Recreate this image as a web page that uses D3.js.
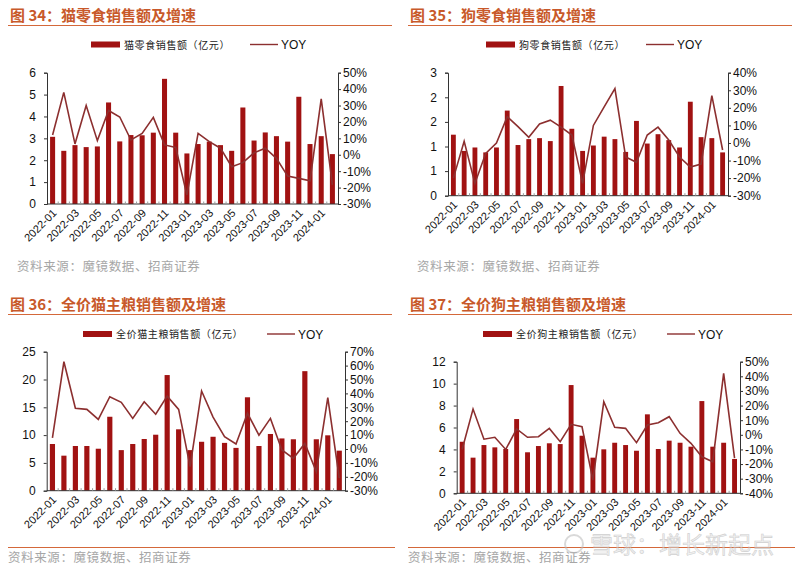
<!DOCTYPE html>
<html><head><meta charset="utf-8">
<script src="https://cdn.jsdelivr.net/npm/d3@7"></script>
<style>
body{margin:0;background:#fff;}
svg{display:block;}
text{font-family:"Liberation Sans",Arial,sans-serif;}
.cjk{font-family:"Noto Sans CJK SC","Noto Sans",sans-serif;}
</style></head>
<body>
<svg id="c" width="800" height="569"></svg>
<script>
// ---------------- data ----------------
const months = ["2022-01","2022-02","2022-03","2022-04","2022-05","2022-06","2022-07","2022-08","2022-09","2022-10","2022-11","2022-12",
"2023-01","2023-02","2023-03","2023-04","2023-05","2023-06","2023-07","2023-08","2023-09","2023-10","2023-11","2023-12","2024-01","2024-02"];

const catSnackSales = [3.07,2.43,2.69,2.60,2.63,4.64,2.86,3.15,3.14,3.26,5.72,3.26,2.31,2.74,2.85,2.69,2.43,4.41,2.90,3.27,3.10,2.85,4.90,2.74,3.10,2.28];
const catSnackYoy   = [12,38,6.6,30,8.6,27,23,9,13,22.8,6,4.5,-24.5,13,8,4,-7.3,-4.8,1.2,4,-2.2,-13,-14.4,-15.8,34,-18.4];

const dogSnackSales = [1.24,0.91,0.98,0.88,0.98,1.73,1.03,1.15,1.17,1.11,2.23,1.36,0.91,1.02,1.20,1.15,0.89,1.52,1.06,1.25,1.13,0.98,1.91,1.19,1.17,0.88];
const dogSnackYoy   = [-20,1,-23,-6,0,15,9.3,3.2,10.8,13,9,4.5,-23,10,20.6,31,-8,-11,4.5,9,1.7,-8,-13.7,-12,27,-4];

const catFoodSales = [8.4,6.3,8.04,8.04,7.55,13.3,7.3,8.4,9.3,10.07,20.8,11.04,7.3,8.8,9.7,8.6,7.7,16.8,8.04,10.2,9.4,9.25,21.5,9.25,9.96,7.2];
const catFoodYoy   = [8,62.8,29.3,28.5,21.3,37.6,33.6,22,34,25,38,28.5,-12.7,41.7,23,8.8,3.6,25.7,10,22,-0.7,-6.7,4,-16.3,37,-21];

const dogFoodSales = [4.70,3.25,4.40,4.19,4.04,6.77,3.74,4.31,4.56,4.49,9.87,5.25,3.25,4.01,4.61,4.40,3.88,7.20,4.04,4.80,4.61,4.25,8.41,4.25,4.61,3.13];
const dogFoodYoy   = [-10,17.6,-3,-1.7,-10,4,-1.7,-1.3,4.4,-4.7,7.2,5.5,-31,22.6,5.1,4.4,-5.4,6.7,8.3,12.4,1,-5.8,-15,-18.4,42,-16];

const catSnackLeftTicks = [0,1,2,3,4,5,6];
const catSnackRightTicks = [-30,-20,-10,0,10,20,30,40,50];
const dogSnackLeftTicks = [0,0.5,1,1.5,2,2.5];
const dogSnackLeftLabels = ["0","1","1","2","2","3"];
const dogSnackRightTicks = [-30,-20,-10,0,10,20,30,40];
const catFoodLeftTicks = [0,5,10,15,20,25];
const catFoodRightTicks = [-30,-20,-10,0,10,20,30,40,50,60,70];
const dogFoodLeftTicks = [0,2,4,6,8,10,12];
const dogFoodRightTicks = [-40,-30,-20,-10,0,10,20,30,40,50];

const titles = ["图 34：猫零食销售额及增速","图 35：狗零食销售额及增速","图 36：全价猫主粮销售额及增速","图 37：全价狗主粮销售额及增速"];
const barLegends = ["猫零食销售额（亿元）","狗零食销售额（亿元）","全价猫主粮销售额（亿元）","全价狗主粮销售额（亿元）"];
const lineLegend = "YOY";
const sourceText = "资料来源：魔镜数据、招商证券";

// ---------------- drawing ----------------
const svg = d3.select("#c");
const BAR = "#a11212", LINE = "#8c2f2f", TITLE = "#c8592a", RULE = "#d4683a", GRAY = "#a6a6a6";

function panel(o){
  const g = svg.append("g");
  // title
  g.append("text").attr("class","cjk").attr("x",o.tx).attr("y",o.ty)
    .attr("font-size",15).attr("font-weight","bold").attr("fill",TITLE).text(o.title);
  g.append("line").attr("x1",o.tx-2).attr("x2",o.tx+382).attr("y1",o.ty+4.5).attr("y2",o.ty+4.5)
    .attr("stroke",RULE).attr("stroke-width",1.2);
  // legend
  g.append("rect").attr("x",o.lx).attr("y",o.ly-3).attr("width",29).attr("height",6).attr("fill",BAR);
  g.append("text").attr("class","cjk").attr("x",o.lx+33).attr("y",o.ly+4).attr("font-size",10)
    .attr("letter-spacing",0.6).attr("fill","#222").text(o.barLegend);
  g.append("line").attr("x1",o.llx).attr("x2",o.llx+28).attr("y1",o.ly).attr("y2",o.ly)
    .attr("stroke",LINE).attr("stroke-width",1.4);
  g.append("text").attr("x",o.llx+31).attr("y",o.ly+4.5).attr("font-size",12).attr("fill","#111").text(lineLegend);

  // scales
  const x = d3.scaleBand().domain(months).range([o.x0,o.x1]).paddingInner(0.55).paddingOuter(0.275);
  const yL = d3.scaleLinear().domain([o.lt[0],o.lt[o.lt.length-1]]).range([o.y0,o.y1]);
  const yR = d3.scaleLinear().domain([o.rt[0],o.rt[o.rt.length-1]]).range([o.y0,o.y1]);

  // bars
  g.append("g").selectAll("rect").data(o.sales).join("rect")
    .attr("x",(d,i)=>x(months[i])).attr("width",x.bandwidth())
    .attr("y",d=>yL(d)).attr("height",d=>yL(0)-yL(d)).attr("fill",BAR);

  // x axis
  const xb = d3.scaleBand().domain(months).range([o.x0,o.x1]);
  const xa = g.append("g").attr("transform",`translate(0,${o.y0})`);
  xa.append("line").attr("x1",o.x0).attr("x2",o.x1).attr("stroke","#333").attr("stroke-width",1);
  xa.selectAll("line.t").data(months.slice(1)).join("line").attr("class","t")
    .attr("x1",d=>xb(d)).attr("x2",d=>xb(d)).attr("y1",0).attr("y2",-2.5).attr("stroke","#999");
  xa.selectAll("text").data(months.filter((d,i)=>i%2===0)).join("text")
    .attr("transform",d=>`translate(${xb(d)+xb.bandwidth()/2+2},${7}) rotate(-45)`)
    .attr("text-anchor","end").attr("dy","0.35em").attr("font-size",11).attr("fill","#111").text(d=>d);

  // left axis
  const la = g.append("g").attr("transform",`translate(${o.x0},0)`)
    .call(d3.axisLeft(yL).tickValues(o.lt).tickSize(3).tickPadding(8)
      .tickFormat((d,i)=>o.ll ? o.ll[i] : d3.format("d")(d)));
  la.select(".domain").attr("stroke","#333");
  la.selectAll(".tick line").attr("stroke","#333");
  la.selectAll("text").attr("font-size",12).attr("fill","#111").attr("font-family","Liberation Sans, Arial, sans-serif");

  // right axis
  const ra = g.append("g").attr("transform",`translate(${o.x1},0)`)
    .call(d3.axisRight(yR).tickValues(o.rt).tickSize(3).tickPadding(2).tickFormat(d=>d+"%"));
  ra.select(".domain").attr("stroke","#333");
  ra.selectAll(".tick line").attr("stroke","#333");
  ra.selectAll("text").attr("font-size",12).attr("fill","#111").attr("font-family","Liberation Sans, Arial, sans-serif");

  // yoy line
  const line = d3.line().x((d,i)=>xb(months[i])+xb.bandwidth()/2).y(d=>yR(d));
  g.append("path").datum(o.yoy).attr("d",line).attr("fill","none").attr("stroke",LINE).attr("stroke-width",1.6)
    .attr("stroke-linejoin","miter");

  // source
  if(o.rule){
    g.append("line").attr("x1",o.tx-2).attr("x2",o.tx+385).attr("y1",o.sy-14.5).attr("y2",o.sy-14.5)
      .attr("stroke",RULE).attr("stroke-width",1.2);
  }
  g.append("text").attr("class","cjk").attr("x",o.sx).attr("y",o.sy).attr("font-size",12.5)
    .attr("letter-spacing",0.6).attr("fill",GRAY).text(sourceText);
}

panel({title:titles[0],tx:10,ty:21,lx:91,ly:44.5,llx:250,barLegend:barLegends[0],
  x0:47,x1:338,y0:204,y1:72.7,lt:catSnackLeftTicks,rt:catSnackRightTicks,
  sales:catSnackSales,yoy:catSnackYoy,sx:17,sy:271,rule:false});
panel({title:titles[1],tx:410,ty:21,lx:486,ly:44.5,llx:646,barLegend:barLegends[1],
  x0:448,x1:728,y0:195.7,y1:72.7,lt:dogSnackLeftTicks,ll:dogSnackLeftLabels,rt:dogSnackRightTicks,
  sales:dogSnackSales,yoy:dogSnackYoy,sx:417,sy:271,rule:false});
panel({title:titles[2],tx:10,ty:310,lx:83,ly:334,llx:267,barLegend:barLegends[2],
  x0:46.7,x1:345,y0:490.7,y1:351.7,lt:catFoodLeftTicks,rt:catFoodRightTicks,
  sales:catFoodSales,yoy:catFoodYoy,sx:8,sy:562,rule:true});
panel({title:titles[3],tx:410,ty:310,lx:483,ly:334,llx:667,barLegend:barLegends[3],
  x0:456.7,x1:740,y0:493.3,y1:361.7,lt:dogFoodLeftTicks,rt:dogFoodRightTicks,
  sales:dogFoodSales,yoy:dogFoodYoy,sx:408,sy:562,rule:true});

// watermark
const wm = svg.append("g").attr("opacity",0.55);
wm.append("circle").attr("cx",574).attr("cy",544).attr("r",9).attr("fill","none").attr("stroke","#bbb").attr("stroke-width",2);
wm.append("text").attr("class","cjk").attr("x",590).attr("y",553).attr("font-size",23)
  .attr("fill","#e6e6e6").attr("stroke","#aaa").attr("stroke-width",0.6).text("雪球：增长新起点");
</script>
</body></html>
